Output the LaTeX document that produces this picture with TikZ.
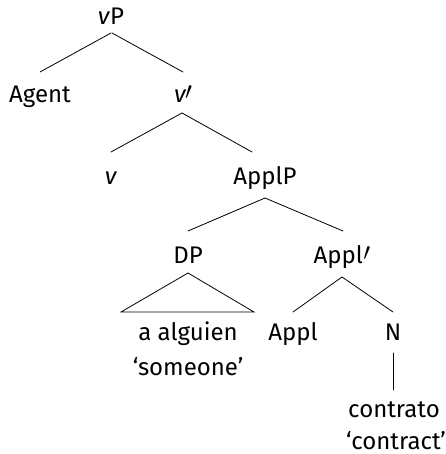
\documentclass[tikz,border=0pt]{standalone}
\usepackage{fontspec}
\setmainfont{Fira Sans}
\newcommand{\pr}{\raisebox{3pt}{$\prime$}}
\begin{document}
\begin{tikzpicture}[x=1pt,y=-1pt,
  lbl/.style={anchor=base,inner sep=0pt,font=\fontsize{24}{28}\selectfont},
  edge/.style={line width=0.8pt,line cap=round}]
\useasboundingbox (0,0) rectangle (445,454);

% tree labels, placed on their baselines
\node[lbl] (vP)     at (111,25)  {\textit{v}P};
\node[lbl] (Agent)  at (40,103)  {Agent};
\node[lbl] (vbar)   at (183,103) {\textit{v}\kern-1.5pt\pr};
\node[lbl] (v)      at (111,185) {\textit{v}};
\node[lbl] (ApplP)  at (265,185) {ApplP};
\node[lbl] (DP)     at (188,263) {DP};
\node[lbl] (Applbar) at (342,263) {Appl\kern0.5pt\pr};
\node[lbl] (alg)    at (188,340) {a alguien};
\node[lbl] (algg)   at (188,375) {‘someone’};
\node[lbl] (Appl)   at (293,340) {Appl};
\node[lbl] (N)      at (393,340) {N};
\node[lbl] (contr)  at (394,417) {contrato};
\node[lbl] (contrg) at (396,449) {‘contract’};

% branches
\draw[edge] ([yshift=-8pt]vP.base) -- ([yshift=31pt]Agent.base);
\draw[edge] ([yshift=-8pt,xshift=1pt]vP.base) -- ([yshift=31pt]vbar.base);
\draw[edge] ([yshift=-10pt,xshift=-1pt]vbar.base) -- ([yshift=33pt]v.base);
\draw[edge] ([yshift=-10pt,xshift=-1pt]vbar.base) -- ([yshift=33pt,xshift=-13pt]ApplP.base);
\draw[edge] ([yshift=-13pt]ApplP.base) -- ([yshift=32pt]DP.base);
\draw[edge] ([yshift=-13pt]ApplP.base) -- ([yshift=32pt,xshift=1pt]Applbar.base);
\draw[edge] ([yshift=-10pt]DP.base) -- ([yshift=28pt,xshift=-67pt]alg.base)
  -- ([yshift=28pt,xshift=66pt]alg.base) -- cycle;
\draw[edge] ([yshift=-14pt]Applbar.base) -- ([yshift=28pt]Appl.base);
\draw[edge] ([yshift=-14pt]Applbar.base) -- ([yshift=28pt]N.base);
\draw[edge] ([yshift=-13pt]N.base) -- ([yshift=27pt,xshift=-1pt]contr.base);
\end{tikzpicture}
\end{document}
